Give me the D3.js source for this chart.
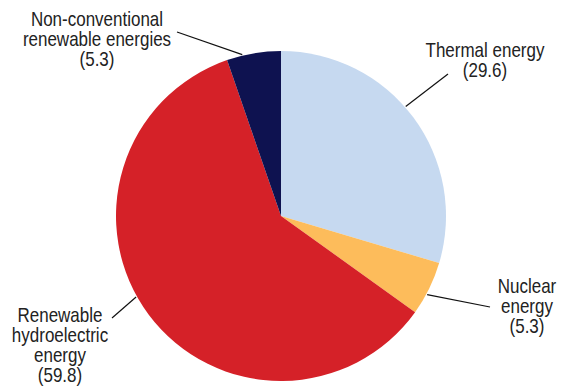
<!DOCTYPE html>
<html><head><meta charset="utf-8">
<script src="https://cdn.jsdelivr.net/npm/d3@7"></script>
<style>body{margin:0;background:#fff}svg{display:block}</style>
</head><body>
<script>
const categories = ["Thermal energy", "Nuclear energy", "Renewable hydroelectric energy", "Non-conventional renewable energies"];
const values = [29.6, 5.3, 59.8, 5.3];
const colors = ["#c6d9f0", "#fdbc5b", "#d52128", "#0e1250"];
const labelLines = [
  ["Thermal energy", "(29.6)"],
  ["Nuclear", "energy", "(5.3)"],
  ["Renewable", "hydroelectric", "energy", "(59.8)"],
  ["Non-conventional", "renewable energies", "(5.3)"]
];

const W = 561, H = 390, cx = 281, cy = 216, R = 165;
const svg = d3.select("body").append("svg").attr("width", W).attr("height", H);
const g = svg.append("g").attr("transform", `translate(${cx},${cy})`);
const pie = d3.pie().sort(null).value(d => d)(values);
const arc = d3.arc().innerRadius(0).outerRadius(R);
g.selectAll("path").data(pie).join("path").attr("d", arc).attr("fill", (d, i) => colors[i]);

// layout: text center x, first baseline y, leader outer end, leader angle on the pie edge (deg)
const labelPos = [
  {x: 485, y: 57, lx: 448, ly: 74, deg: 48.7},
  {x: 527, y: 293, lx: 490, ly: 307, deg: 118.3},
  {x: 60, y: 322, lx: 112, ly: 318, deg: 240.8},
  {x: 97, y: 26, lx: 177, ly: 32, deg: 346.5}
];
const fs = 20, lh = 20;
const font = "'Liberation Sans', Arial, sans-serif";

// measure for horizontal condensing
const probe = svg.append("text").attr("font-family", font).attr("font-size", fs).text("Thermal energy");
const sx = 119 / probe.node().getComputedTextLength();
probe.remove();

pie.forEach((d, i) => {
  const p = labelPos[i];
  const a = p.deg * Math.PI / 180;
  const ex = cx + (R + 1) * Math.sin(a), ey = cy - (R + 1) * Math.cos(a);
  svg.append("line").attr("x1", ex).attr("y1", ey).attr("x2", p.lx).attr("y2", p.ly)
    .attr("stroke", "#111").attr("stroke-width", 1.2);
  const t = svg.append("text").attr("text-anchor", "middle")
    .attr("transform", `scale(${sx},1)`)
    .attr("font-family", font)
    .attr("font-size", fs).attr("fill", "#222");
  labelLines[i].forEach((s, k) => t.append("tspan").attr("x", p.x / sx).attr("y", p.y + k * lh).text(s));
});
</script>
</body></html>
